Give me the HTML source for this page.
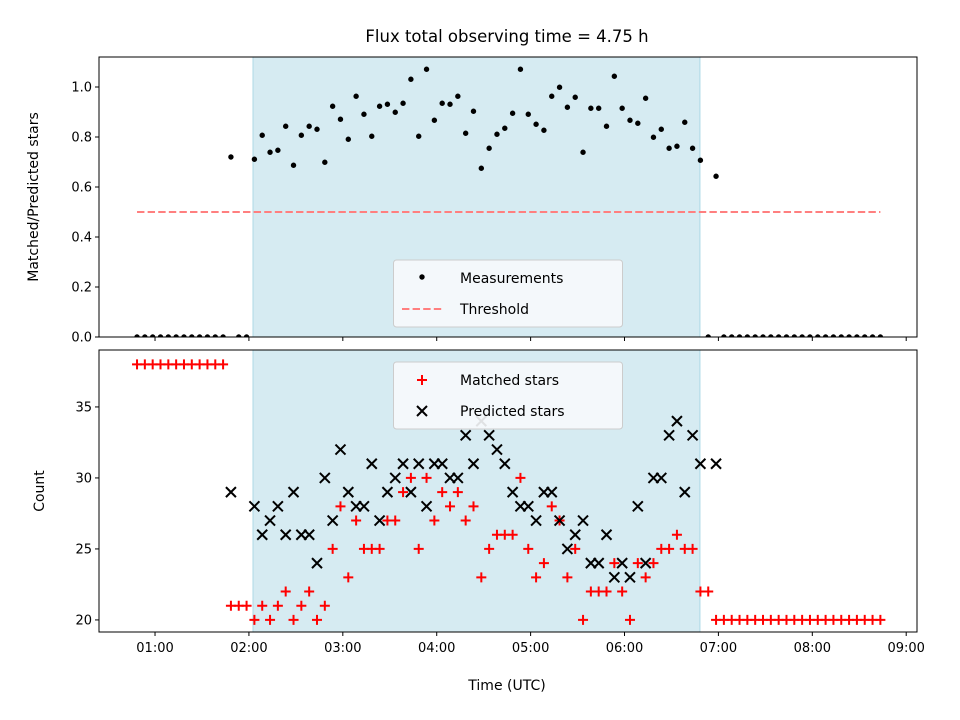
<!DOCTYPE html>
<html><head><meta charset="utf-8"><style>
html,body{margin:0;padding:0;background:#fff}
svg{display:block;font-family:"DejaVu Sans","Liberation Sans",sans-serif}
</style></head><body>
<svg id="chart" width="960" height="720" viewBox="0 0 960 720">
<defs>
<clipPath id="clipTop"><rect x="99" y="57" width="818" height="280"/></clipPath>
<clipPath id="clipBot"><rect x="99" y="350" width="818" height="282"/></clipPath>
</defs>
<text x="507" y="42" font-size="16.5" text-anchor="middle">Flux total observing time = 4.75 h</text>
<g id="topPanel"></g>
<g id="botPanel"></g>
</svg>
<script>
// time in minutes since 00:00 UTC for each measurement
const times = [48.5,53.5,58.5,63.5,68.5,73.5,78.5,83.5,88.5,93.5,98.5,103.5,108.5,113.5,118.5,123.5,128.5,133.5,138.5,143.5,148.5,153.5,158.5,163.5,168.5,173.5,178.5,183.5,188.5,193.5,198.5,203.5,208.5,213.5,218.5,223.5,228.5,233.5,238.5,243.5,248.5,253.5,258.5,263.5,268.5,273.5,278.5,283.5,288.5,293.5,298.5,303.5,308.5,313.5,318.5,323.5,328.5,333.5,338.5,343.5,348.5,353.5,358.5,363.5,368.5,373.5,378.5,383.5,388.5,393.5,398.5,403.5,408.5,413.5,418.5,423.5,428.5,433.5,438.5,443.5,448.5,453.5,458.5,463.5,468.5,473.5,478.5,483.5,488.5,493.5,498.5,503.5,508.5,513.5,518.5,523.5];
const ratio = [0,0,0,0,0,0,0,0,0,0,0,0,0.72,0,0,0.711,0.807,0.739,0.747,0.843,0.687,0.807,0.843,0.831,0.699,0.923,0.871,0.791,0.963,0.891,0.803,0.923,0.931,0.899,0.935,1.031,0.803,1.071,0.867,0.935,0.931,0.963,0.815,0.903,0.675,0.755,0.811,0.835,0.895,1.071,0.891,0.851,0.827,0.963,0.999,0.919,0.959,0.739,0.915,0.915,0.843,1.043,0.915,0.867,0.855,0.955,0.799,0.831,0.755,0.763,0.859,0.755,0.707,0,0.643,0,0,0,0,0,0,0,0,0,0,0,0,0,0,0,0,0,0,0,0,0];
const matched = [38,38,38,38,38,38,38,38,38,38,38,38,21,21,21,20,21,20,21,22,20,21,22,20,21,25,28,23,27,25,25,25,27,27,29,30,25,30,27,29,28,29,27,28,23,25,26,26,26,30,25,23,24,28,27,23,25,20,22,22,22,24,22,20,24,23,24,25,25,26,25,25,22,22,20,20,20,20,20,20,20,20,20,20,20,20,20,20,20,20,20,20,20,20,20,20];
const predicted = [0,0,0,0,0,0,0,0,0,0,0,0,29,0,0,28,26,27,28,26,29,26,26,24,30,27,32,29,28,28,31,27,29,30,31,29,31,28,31,31,30,30,33,31,34,33,32,31,29,28,28,27,29,29,27,25,26,27,24,24,26,23,24,23,28,24,30,30,33,34,29,33,31,0,31,0,0,0,0,0,0,0,0,0,0,0,0,0,0,0,0,0,0,0,0,0];
const threshold = 0.5;
const shadeStart = 122.6, shadeEnd = 408.2;
const xTickMinutes = [60,120,180,240,300,360,420,480,540];
const xTickLabels = ["01:00","02:00","03:00","04:00","05:00","06:00","07:00","08:00","09:00"];
const topTicks = [0,0.2,0.4,0.6,0.8,1.0];
const botTicks = [20,25,30,35];

const NS="http://www.w3.org/2000/svg";
const L=99,R=917;
const xMin=24.2,xMax=546.9;
const X=m=>L+(m-xMin)/(xMax-xMin)*(R-L);
const TT=57,TB=337,tMin=0,tMax=1.12;
const YT=v=>TB-(v-tMin)/(tMax-tMin)*(TB-TT);
const BT=350,BB=632,bMin=19.15,bMax=39.01;
const YB=v=>BB-(v-bMin)/(bMax-bMin)*(BB-BT);
function mk(tag,attrs,parent){const e=document.createElementNS(NS,tag);for(const k in attrs)e.setAttribute(k,attrs[k]);parent.appendChild(e);return e;}
const topG=document.getElementById('topPanel'), botG=document.getElementById('botPanel');

function axes(g,y0,y1,name,Y,ticks,fmt,showX){
  let s=mk('rect',{x:X(shadeStart),y:y0,width:X(shadeEnd)-X(shadeStart),height:y1-y0,fill:'#add8e6','fill-opacity':0.5,stroke:'#add8e6','stroke-width':1},g);
  
  
  ticks.forEach(t=>{
    const y=Y(t);
    let l=mk('line',{x1:L-4,x2:L,y1:y,y2:y,stroke:'#000','stroke-width':1},g);
    
    
    let tx=mk('text',{x:L-7,y:y+4.5,'font-size':13,'text-anchor':'end'},g);
    tx.textContent=fmt(t);
    
    
  });
  xTickMinutes.forEach((m,i)=>{
    const x=X(m);
    let l=mk('line',{x1:x,x2:x,y1:y1,y2:y1+4,stroke:'#000','stroke-width':1},g);
    
    
    if(showX){
      let tx=mk('text',{x:x,y:y1+20,'font-size':13,'text-anchor':'middle'},g);
      tx.textContent=xTickLabels[i];
      
      
    }
  });
}
function frame(g,y0,y1,name){
  let f=mk('rect',{x:L,y:y0,width:R-L,height:y1-y0,fill:'none',stroke:'#000','stroke-width':1},g);
  
  
}

// top panel
axes(topG,TT,TB,'top',YT,topTicks,v=>v.toFixed(1),false);
const tg=mk('g',{'clip-path':'url(#clipTop)'},topG);
let th=mk('line',{x1:X(times[0]),x2:X(times[times.length-1]),y1:YT(threshold),y2:YT(threshold),stroke:'#ff7f7f','stroke-width':2,'stroke-dasharray':'7.4,3.2'},tg);


times.forEach((m,i)=>{
  let c=mk('circle',{cx:X(m),cy:YT(ratio[i]),r:2.7,fill:'#000'},tg);
  
  
});
frame(topG,TT,TB,'top');
let yl1=mk('text',{x:0,y:0,'font-size':14,'text-anchor':'middle',transform:'translate(38,197) rotate(-90)'},topG);
yl1.textContent='Matched/Predicted stars';



// bottom panel
axes(botG,BT,BB,'bottom',YB,botTicks,v=>String(v),true);
const bg=mk('g',{'clip-path':'url(#clipBot)'},botG);
times.forEach((m,i)=>{
  const x=X(m),y=YB(matched[i]);
  let p=mk('path',{d:`M${x-5},${y}H${x+5}M${x},${y-5}V${y+5}`,stroke:'#ff0000','stroke-width':2,fill:'none'},bg);
  
  
});
times.forEach((m,i)=>{
  if(!predicted[i])return;
  const x=X(m),y=YB(predicted[i]);
  let p=mk('path',{d:`M${x-5},${y-5}L${x+5},${y+5}M${x-5},${y+5}L${x+5},${y-5}`,stroke:'#000','stroke-width':2,fill:'none'},bg);
  
  
});
frame(botG,BT,BB,'bottom');
let yl2=mk('text',{x:0,y:0,'font-size':14,'text-anchor':'middle',transform:'translate(44,491) rotate(-90)'},botG);
yl2.textContent='Count';


let xl=mk('text',{x:507,y:690,'font-size':14,'text-anchor':'middle'},botG);
xl.textContent='Time (UTC)';



// legends
function legend(y0,name,items){
  const g=mk('g',{},document.getElementById('chart'));
  
  
  mk('rect',{x:393.5,y:y0,width:229,height:67,rx:3,fill:'#f7fafc','fill-opacity':0.9,stroke:'#cccccc','stroke-width':1},g);
  items.forEach((it,k)=>{
    const cy=y0+18+k*31;
    const eg=mk('g',{},g);
    
    
    const cx=422;
    if(it.key==='measurements') mk('circle',{cx:cx,cy:cy-1,r:2.7,fill:'#000'},eg);
    if(it.key==='threshold') mk('line',{x1:402,x2:444,y1:cy,y2:cy,stroke:'#ff7f7f','stroke-width':2,'stroke-dasharray':'7.4,3.2'},eg);
    if(it.key==='matched') mk('path',{d:`M${cx-5},${cy}H${cx+5}M${cx},${cy-5}V${cy+5}`,stroke:'#f00','stroke-width':2},eg);
    if(it.key==='predicted') mk('path',{d:`M${cx-5},${cy-5}L${cx+5},${cy+5}M${cx-5},${cy+5}L${cx+5},${cy-5}`,stroke:'#000','stroke-width':2},eg);
    const t=mk('text',{x:460,y:cy+5,'font-size':14},eg);
    t.textContent=it.label;
  });
}
legend(260,'top-legend',[{key:'measurements',label:'Measurements'},{key:'threshold',label:'Threshold'}]);
legend(362,'bottom-legend',[{key:'matched',label:'Matched stars'},{key:'predicted',label:'Predicted stars'}]);
</script>
</body></html>
